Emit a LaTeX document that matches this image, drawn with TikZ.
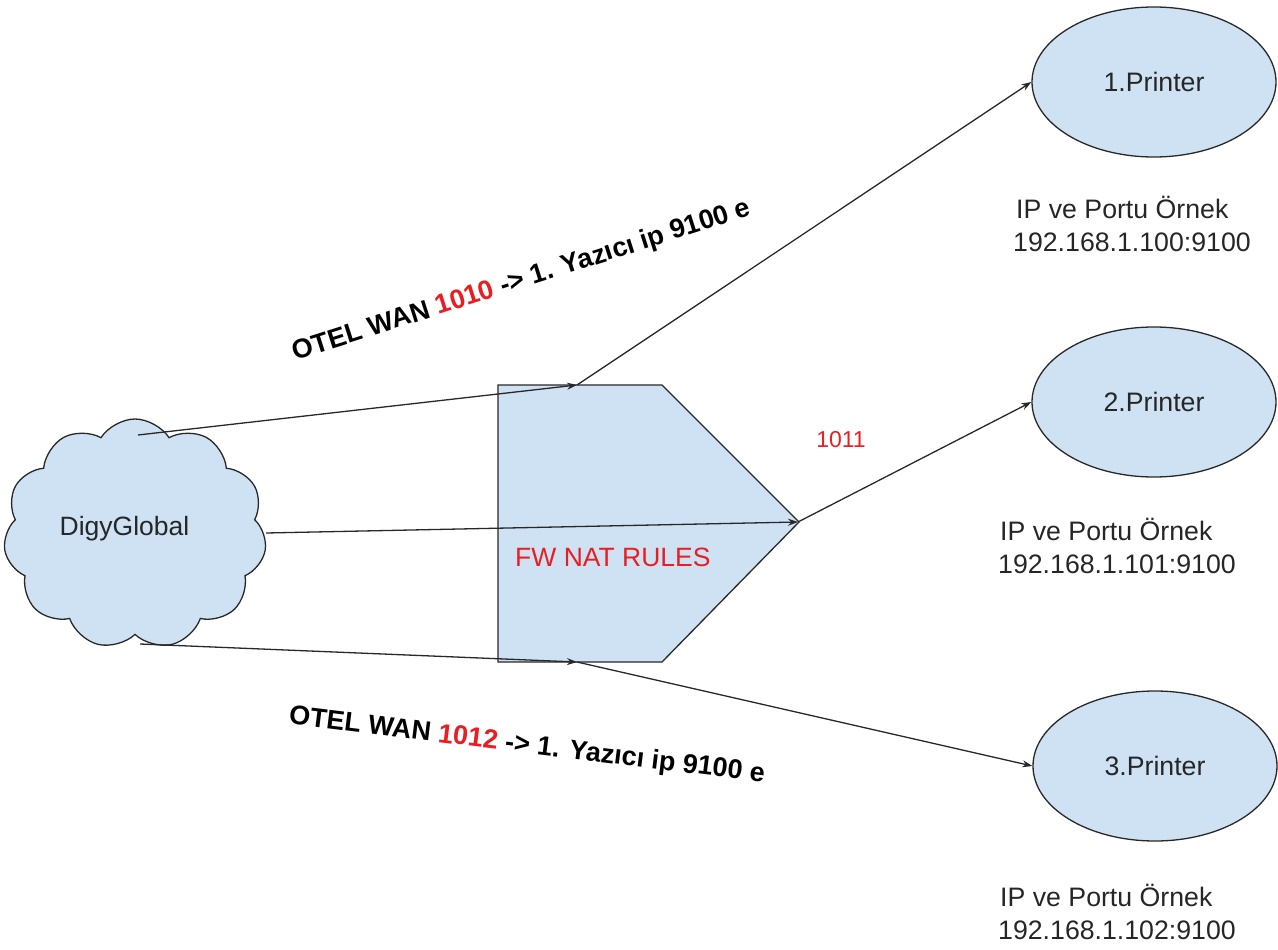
\documentclass[tikz,border=0pt]{standalone}
\usepackage{fontspec}
\setmainfont{Liberation Sans}
\usetikzlibrary{shapes.geometric,shapes.symbols,arrows.meta}
\definecolor{fillblue}{RGB}{207,226,243}
\definecolor{edge}{RGB}{40,40,40}
\definecolor{natred}{RGB}{232,30,35}
\begin{document}
\begin{tikzpicture}[x=1pt,y=-1pt,
  arr/.style={draw=edge, line width=1.3pt, -{Stealth[length=10pt,width=7pt]}},
  printer/.style={ellipse, draw=edge, line width=1.3pt, fill=fillblue,
    minimum width=244pt, minimum height=150pt, inner sep=0pt,
    font=\fontsize{26.7}{30}\selectfont, text=black!85},
  iplabel/.style={anchor=base west, inner sep=0pt,
    font=\fontsize{26.7}{30}\selectfont, text=black!85},
  wan/.style={inner sep=0pt, font=\bfseries\fontsize{27}{32}\selectfont},
  redtext/.style={text=natred, inner sep=0pt}]
\useasboundingbox (0,0) rectangle (1278,950);

% cloud
\node[cloud, cloud puffs=11, cloud puff arc=115, aspect=1.18, draw=edge,
  fill=fillblue, line width=1.3pt, minimum width=263pt, minimum height=230pt,
  inner sep=0pt] (cloud) at (135,534) {};
\node[inner sep=0pt, font=\fontsize{26.5}{30}\selectfont, text=black!85] (cloudlabel) at (124.5,529) {DigyGlobal};

% firewall pentagon
\draw[draw=edge, line width=1.3pt, fill=fillblue]
  (498,385) -- (662,385) -- (799,522) -- (662,662) -- (498,662) -- cycle;
\node[redtext, anchor=west, font=\fontsize{26.5}{30}\selectfont] (fw) at (515,557) {FW NAT RULES};

% printers
\node[printer] (p1) at (1154,82) {1.Printer};
\node[printer] (p2) at (1154,402) {2.Printer};
\node[printer] (p3) at (1155,766) {3.Printer};

\node[iplabel] (ip1a) at (1016,218) {IP ve Portu Örnek};
\node[iplabel] (ip1b) at (1013,251) {192.168.1.100:9100};
\node[iplabel] (ip2a) at (1000,540) {IP ve Portu Örnek};
\node[iplabel] (ip2b) at (998,573) {192.168.1.101:9100};
\node[iplabel] (ip3a) at (1000,906) {IP ve Portu Örnek};
\node[iplabel] (ip3b) at (998,939) {192.168.1.102:9100};

% connector points
\coordinate (c1) at (138,435);
\coordinate (c2) at (266,533);
\coordinate (c3) at (140,644);
\coordinate (fwtop) at (577,385);
\coordinate (fwtip) at (798,522);
\coordinate (fwbot) at (577,662);

\draw[arr] (c1) -- (fwtop);
\draw[arr] (fwtop) -- (p1.west);
\draw[arr] (c2) -- (fwtip);
\draw[arr] (fwtip) -- (p2.west);
\draw[arr] (c3) -- (fwbot);
\draw[arr] (fwbot) -- (p3.west);

% labels
\node[wan, rotate=17.7] (wan1) at (522,281) {OTEL WAN \textcolor{natred}{1010} -> 1. Yazıcı ip 9100 e};
\node[wan, rotate=-7] (wan2) at (527,746) {OTEL WAN \textcolor{natred}{1012} -> 1. Yazıcı ip 9100 e};
\node[redtext, font=\fontsize{23}{26}\selectfont] (n1011) at (841,440) {1011};
\end{tikzpicture}
\end{document}
